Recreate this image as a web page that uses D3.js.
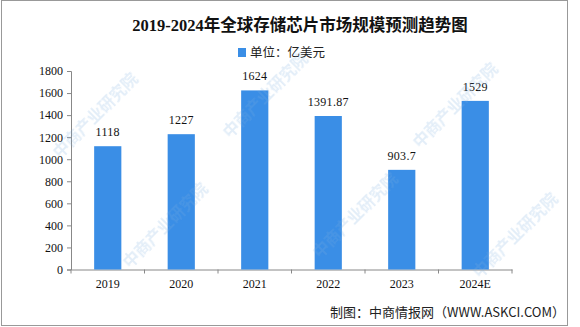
<!DOCTYPE html>
<html><head><meta charset="utf-8">
<script src="https://cdn.jsdelivr.net/npm/d3@7"></script>
<style>body{margin:0;background:#fff}svg{display:block}</style>
</head><body>
<svg id="c" width="580" height="327"></svg>
<script>
const categories = ["2019","2020","2021","2022","2023","2024E"];
const values = [1118, 1227, 1624, 1391.87, 903.7, 1529];
const valueLabels = ["1118","1227","1624","1391.87","903.7","1529"];
const yTicks = [0,200,400,600,800,1000,1200,1400,1600,1800];
const title = "2019-2024年全球存储芯片市场规模预测趋势图";
const legendLabel = "单位：亿美元";
const source = "制图：中商情报网（WWW.ASKCI.COM）";
const watermark = "中商产业研究院";

const svg = d3.select("#c");
const numFont = "'Liberation Serif','Noto Sans CJK SC',serif";
const cjkFont = "'Noto Sans CJK SC',sans-serif";

// frame
svg.append("rect").attr("x",1.5).attr("y",0.5).attr("width",566).attr("height",325)
  .attr("fill","none").attr("stroke","#999").attr("stroke-width",1);

const x = d3.scaleBand().domain(categories).range([71, 512]).paddingInner(0.63).paddingOuter(0.315);
const y = d3.scaleLinear().domain([0,1800]).range([269.5, 71]);

const gy = svg.append("g").attr("transform","translate(71,0)")
  .call(d3.axisLeft(y).tickValues(yTicks).tickFormat(d3.format("d")).tickSize(4).tickPadding(4));
gy.selectAll("text").attr("font-family", numFont).attr("font-size", 12).attr("fill","#111");
gy.select(".domain").attr("stroke","#888");
gy.selectAll(".tick line").attr("stroke","#888");

const xb = d3.scaleBand().domain(categories).range([71,512]);
const gx = svg.append("g").attr("transform","translate(0,269.5)")
  .call(d3.axisBottom(xb).tickSize(0).tickPadding(10).tickSizeOuter(0));
gx.select(".domain").attr("stroke","#888");
gx.selectAll("text").attr("font-family", numFont).attr("font-size", 12).attr("fill","#111");
// boundary ticks
const edges = categories.map(c => xb(c)).concat([512]);
svg.append("g").selectAll("line").data(edges).join("line")
  .attr("x1", d=>d).attr("x2", d=>d).attr("y1",269.5).attr("y2",273.5).attr("stroke","#888");

svg.append("g").selectAll("rect").data(categories).join("rect")
  .attr("x", c => x(c)).attr("width", x.bandwidth())
  .attr("y", (c,i) => y(values[i])).attr("height", (c,i) => y(0) - y(values[i]))
  .attr("fill", "#3a8ee6");

svg.append("g").selectAll("text").data(categories).join("text")
  .attr("x", c => x(c) + x.bandwidth()/2)
  .attr("y", (c,i) => y(values[i]) - 10)
  .attr("text-anchor","middle").attr("font-family", numFont).attr("font-size", 12).attr("fill","#111")
  .attr("letter-spacing", 0.3)
  .text((c,i) => valueLabels[i]);

svg.append("text").attr("x", 300).attr("y", 31).attr("text-anchor","middle")
  .attr("font-family", "'Liberation Serif','Noto Sans CJK SC',serif").attr("font-weight","bold")
  .attr("font-size", 16.5).attr("fill","#111").text(title);

svg.append("rect").attr("x",238).attr("y",48).attr("width",8).attr("height",9).attr("fill","#3a8ee6");
svg.append("text").attr("x",250).attr("y",57).attr("font-family", cjkFont).attr("font-size",12.5)
  .attr("fill","#222").text(legendLabel);

svg.append("text").attr("x",565).attr("y",317).attr("text-anchor","end")
  .attr("font-family", cjkFont).attr("font-size",13).attr("fill","#222").text(source);

// watermark overlay
const wm = svg.append("g").attr("fill", "#7fb0e0").attr("opacity", 0.22).attr("pointer-events","none");
[[95,115],[265,95],[455,105],[165,225],[355,215],[515,235]].forEach(p => {
  wm.append("text").attr("transform", `translate(${p[0]},${p[1]}) rotate(-45)`)
    .attr("font-family", cjkFont).attr("font-size", 16).attr("font-weight", "bold")
    .attr("text-anchor", "middle").attr("dy", "0.35em").text(watermark);
});
</script>
</body></html>
